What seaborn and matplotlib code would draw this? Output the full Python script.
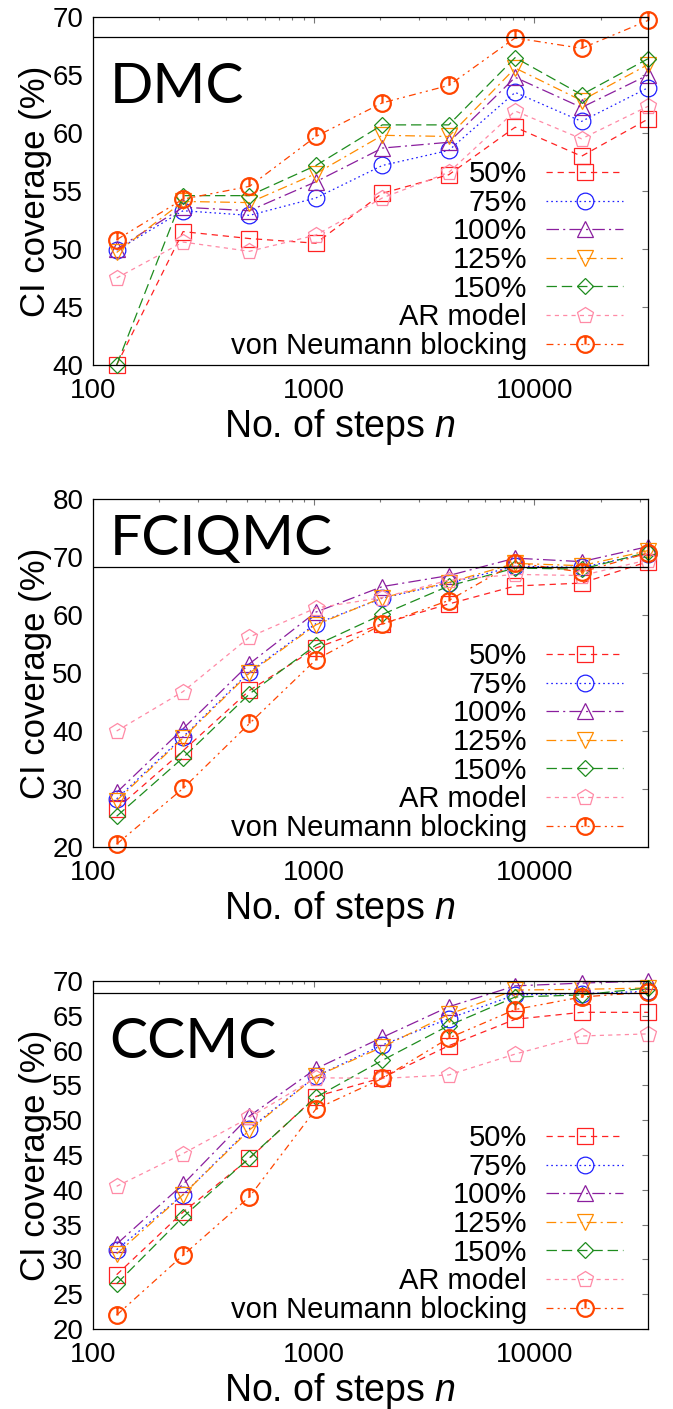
import matplotlib
matplotlib.use("Agg")
import matplotlib.pyplot as plt
from matplotlib.path import Path
from matplotlib.ticker import FixedLocator, NullFormatter, LogLocator
import seaborn as sns

# --- DATA ---
STEPS = [128, 256, 512, 1024, 2048, 4096, 8192, 16384, 32768]
SERIES = ["50%", "75%", "100%", "125%", "150%", "AR model", "von Neumann blocking"]

dmc_50 = [40.0, 51.5, 50.9, 50.5, 54.8, 56.4, 60.5, 58.0, 61.2]
dmc_75 = [49.9, 53.3, 52.9, 54.4, 57.2, 58.5, 63.5, 61.0, 63.9]
dmc_100 = [50.0, 53.6, 53.3, 55.8, 58.7, 59.2, 64.8, 62.2, 65.0]
dmc_125 = [49.7, 54.1, 54.0, 56.5, 59.8, 59.7, 65.6, 62.8, 65.9]
dmc_150 = [40.0, 54.6, 54.6, 57.2, 60.7, 60.7, 66.5, 63.3, 66.4]
dmc_ar = [47.5, 50.6, 49.8, 51.2, 54.4, 56.6, 61.9, 59.5, 62.3]
dmc_vn = [50.8, 54.3, 55.4, 59.7, 62.6, 64.1, 68.2, 67.3, 69.7]

fci_50 = [26.6, 36.6, 47.0, 54.3, 58.5, 61.9, 65.0, 65.5, 69.2]
fci_75 = [28.3, 39.0, 50.2, 58.5, 62.9, 65.5, 68.4, 68.2, 70.6]
fci_100 = [29.4, 40.4, 51.6, 60.5, 64.9, 66.8, 69.8, 69.2, 71.8]
fci_125 = [28.0, 38.8, 50.0, 58.3, 63.0, 65.6, 68.9, 68.5, 71.1]
fci_150 = [25.3, 35.4, 46.4, 54.8, 60.1, 65.0, 68.1, 67.9, 70.8]
fci_ar = [40.0, 46.8, 56.2, 61.2, 63.0, 66.0, 67.0, 66.8, 69.5]
fci_vn = [20.5, 30.1, 41.3, 52.3, 58.4, 62.5, 69.0, 67.4, 70.7]

ccmc_50 = [27.8, 36.8, 44.5, 53.4, 56.1, 60.7, 64.5, 65.5, 65.5]
ccmc_75 = [31.4, 39.3, 48.8, 56.3, 60.8, 64.6, 68.0, 68.2, 68.5]
ccmc_100 = [32.2, 40.8, 50.6, 57.4, 61.9, 66.3, 69.3, 69.7, 70.0]
ccmc_125 = [30.8, 39.3, 48.6, 56.3, 60.5, 65.2, 68.7, 68.8, 69.0]
ccmc_150 = [26.5, 36.1, 44.6, 53.3, 58.6, 63.6, 67.7, 68.0, 69.0]
ccmc_ar = [40.5, 45.2, 50.4, 56.1, 56.0, 56.5, 59.5, 62.1, 62.4]
ccmc_vn = [22.0, 30.6, 39.0, 51.6, 56.0, 61.8, 65.9, 67.7, 68.4]

TARGET = 68.27  # one-sigma coverage reference line

PANELS = [
    ("DMC", [dmc_50, dmc_75, dmc_100, dmc_125, dmc_150, dmc_ar, dmc_vn], (40, 70), list(range(40, 71, 5)), 0.753),
    ("FCIQMC", [fci_50, fci_75, fci_100, fci_125, fci_150, fci_ar, fci_vn], (20, 80), list(range(20, 81, 10)), 0.839),
    ("CCMC", [ccmc_50, ccmc_75, ccmc_100, ccmc_125, ccmc_150, ccmc_ar, ccmc_vn], (20, 70), list(range(20, 71, 5)), 0.779),
]

# --- STYLE ---
sns.set_style("white")
plt.rcParams["font.family"] = ["Liberation Sans", "DejaVu Sans"]
plt.rcParams["mathtext.fontset"] = "custom"
plt.rcParams["mathtext.rm"] = "Liberation Sans"
plt.rcParams["mathtext.it"] = "Liberation Sans:italic"
plt.rcParams["lines.scale_dashes"] = False
plt.rcParams["text.color"] = "black"
plt.rcParams["axes.labelcolor"] = "black"
plt.rcParams["xtick.labelcolor"] = "black"
plt.rcParams["ytick.labelcolor"] = "black"

# circle with a tick from the centre up, like the gnuplot point type
vn_marker = Path.make_compound_path(Path.circle((0, 0), 1.0), Path([(0, 0), (0, 1)], [Path.MOVETO, Path.LINETO]))

COLORS = ["#ff2222", "#1f1fff", "#8a1e9e", "#ff8c00", "#1e8c1e", "#ff8aa6", "#ff4500"]
MARKERS = ["s", "o", "^", "v", "D", "p", vn_marker]
MSIZES = [12, 12, 12, 12, 8.6, 12, 12]
EDGEW = [0.9, 0.9, 0.9, 0.9, 0.9, 0.9, 1.6]
LSTYLES = [
    (0, (4.5, 3.5)),
    (0, (1.2, 2.2)),
    (0, (9, 3, 1.5, 3)),
    (0, (7, 3, 1.5, 3)),
    (0, (7.5, 3.5)),
    (0, (3, 3)),
    (0, (5, 3, 1.5, 3, 1.5, 3)),
]

fig = plt.figure(figsize=(6.73, 14.09), dpi=100)
left, width, height = 93 / 673, 555 / 673, 348 / 1409
bottoms = [1 - 365 / 1409, 1 - 847 / 1409, 1 - 1329 / 1409]

for (name, values, ylim, yticks, name_y), bottom in zip(PANELS, bottoms):
    ax = fig.add_axes([left, bottom, width, height])
    handles = []
    for i, label in enumerate(SERIES):
        sns.lineplot(x=STEPS, y=values[i], ax=ax, color=COLORS[i], marker=MARKERS[i],
                     markersize=MSIZES[i], markerfacecolor="none", markeredgecolor=COLORS[i],
                     markeredgewidth=EDGEW[i], linestyle=LSTYLES[i], linewidth=0.9,
                     label=label, legend=False, errorbar=None, clip_on=False)
        handles.append(ax.get_lines()[-1])
    ax.axhline(TARGET, color="black", linewidth=0.9)

    ax.set_xscale("log")
    ax.set_xlim(100, 32768)
    ax.set_ylim(*ylim)
    ax.xaxis.set_major_locator(FixedLocator([100, 1000, 10000]))
    ax.set_xticklabels(["100", "1000", "10000"])
    ax.xaxis.set_minor_locator(LogLocator(base=10, subs=range(2, 10)))
    ax.xaxis.set_minor_formatter(NullFormatter())
    ax.set_yticks(yticks)
    ax.tick_params(which="both", direction="in", top=True, right=True, color="#777777", width=0.8)
    ax.tick_params(which="major", length=4.3, labelsize=20)
    ax.tick_params(axis="x", which="major", pad=9)
    ax.tick_params(axis="y", which="major", pad=7)
    ax.tick_params(which="minor", length=2.2)
    for sp in ax.spines.values():
        sp.set_color("black")
        sp.set_linewidth(0.9)

    ax.set_xlabel("No. of steps $n$", fontsize=27)
    ax.set_ylabel("CI coverage (%)", fontsize=25)
    ax.xaxis.set_label_coords(0.445, -0.122)
    ax.yaxis.set_label_coords(-0.074, 0.5)

    ax.text(0.03, name_y, name, transform=ax.transAxes, fontsize=41, family=["Lato", "DejaVu Sans"],
            ha="left", va="baseline")

    ax.legend(handles=handles, loc="lower right", bbox_to_anchor=(0.955, 0.015), frameon=False,
              markerfirst=False, fontsize=21, handlelength=2.64, handletextpad=0.65,
              labelspacing=0.02, borderpad=0, borderaxespad=0)

fig.savefig("out.png", dpi=100)
